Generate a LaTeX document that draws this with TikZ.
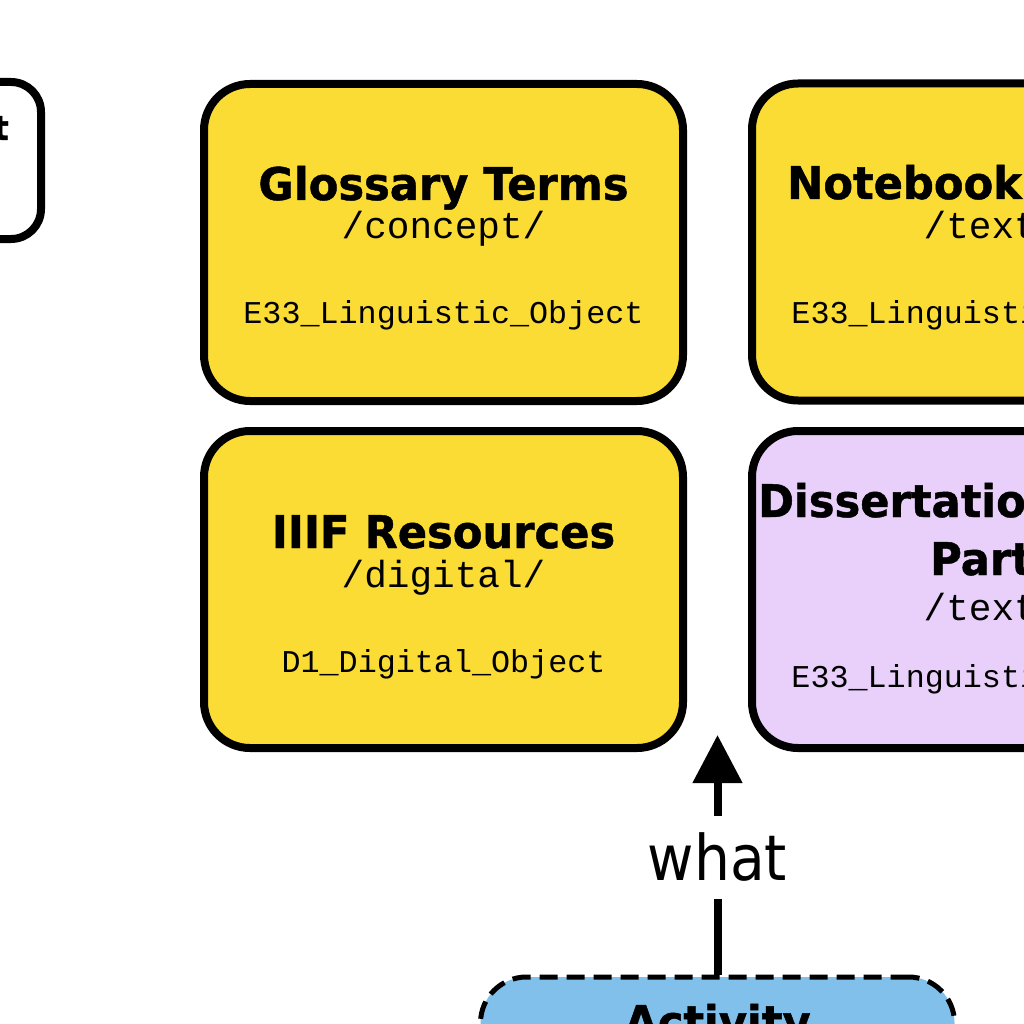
\documentclass[tikz,border=0pt]{standalone}
\usepackage{fontspec}
\usetikzlibrary{arrows.meta}
\newfontfamily\headfont{DejaVu Sans Bold}[FakeStretch=0.96, FakeBold=1]
\newfontfamily\labelfont{DejaVu Sans}[FakeStretch=0.9]
\newfontfamily\codefont{Liberation Mono}
\definecolor{termyellow}{RGB}{251,220,52}
\definecolor{textlilac}{RGB}{233,208,250}
\definecolor{actblue}{RGB}{128,192,234}
\begin{document}
\begin{tikzpicture}[
    x=1pt,
    y=-1pt,
    entity/.style={draw, line width=8pt, rounded corners=46pt, minimum width=479pt, minimum height=317pt, inner sep=0pt},
    activitybox/.style={entity, line width=5pt, dash pattern=on 18pt off 9pt, minimum width=474pt, minimum height=300pt},
    headline/.style={font=\headfont\fontsize{45}{54}\selectfont, anchor=base, inner sep=0pt},
    pathline/.style={font=\codefont\fontsize{37.7}{44}\selectfont, anchor=base, inner sep=0pt},
    classline/.style={font=\codefont\fontsize{31.75}{38}\selectfont, anchor=base, inner sep=0pt},
    relation/.style={-{Triangle[width=48pt,length=48pt]}, line width=8pt},
    relationlabel/.style={font=\labelfont\fontsize{63}{70}\selectfont, fill=white, inner sep=17pt}
]

\useasboundingbox (0,0) rectangle (1024,1024);
\clip (0,0) rectangle (1024,1024);

% Box / centre / fill / path / baseline of path / class / baseline of class
\foreach \name/\cx/\cy/\col/\pth/\py/\cls/\ky in {
    glossary/443.5/242.5/termyellow/concept/238/E33\_Linguistic\_Object/323,
    notebook/991.5/242/termyellow/text/238/E33\_Linguistic\_Object/323,
    iiif/443.5/589.5/termyellow/digital/587/D1\_Digital\_Object/672,
    diss/991.5/589.5/textlilac/text/620/E33\_Linguistic\_Object/687}
{
    \node[entity, fill=\col] (\name) at (\cx,\cy) {};
    \node[pathline] (\name-path) at (\cx,\py) {/\pth/};
    \node[classline] (\name-class) at (\cx,\ky) {\cls};
}

% Titles
\node[headline] (glossary-title) at (443.5,200) {Glossary Terms};
\node[headline] (iiif-title) at (443.5,548) {IIIF Resources};
\node[headline, anchor=base west] (notebook-title) at (787,199) {Notebook};
\node[headline, anchor=base west] (diss-title) at (758,517) {Dissertation};
\node[headline, anchor=base west] (diss-title-b) at (930,575) {Part};

% Left box, cut by the edge
\node[entity, fill=white, minimum width=300pt, minimum height=157pt, rounded corners=30pt] (leftbox) at (-109,160.5) {};
\node[headline, font=\headfont\fontsize{34}{40}\selectfont, anchor=base east] (leftbox-title) at (9,140) {t};

% Activity
\node[activitybox, fill=actblue] (activity) at (717.5,1127) {};
\node[headline] (activity-title) at (717.5,1038) {Activity};

\coordinate (whattip) at (717.5,735);
\draw[relation] (activity.north) -- node[relationlabel, pos=0.49] (what) {what} (whattip);

\end{tikzpicture}
\end{document}
